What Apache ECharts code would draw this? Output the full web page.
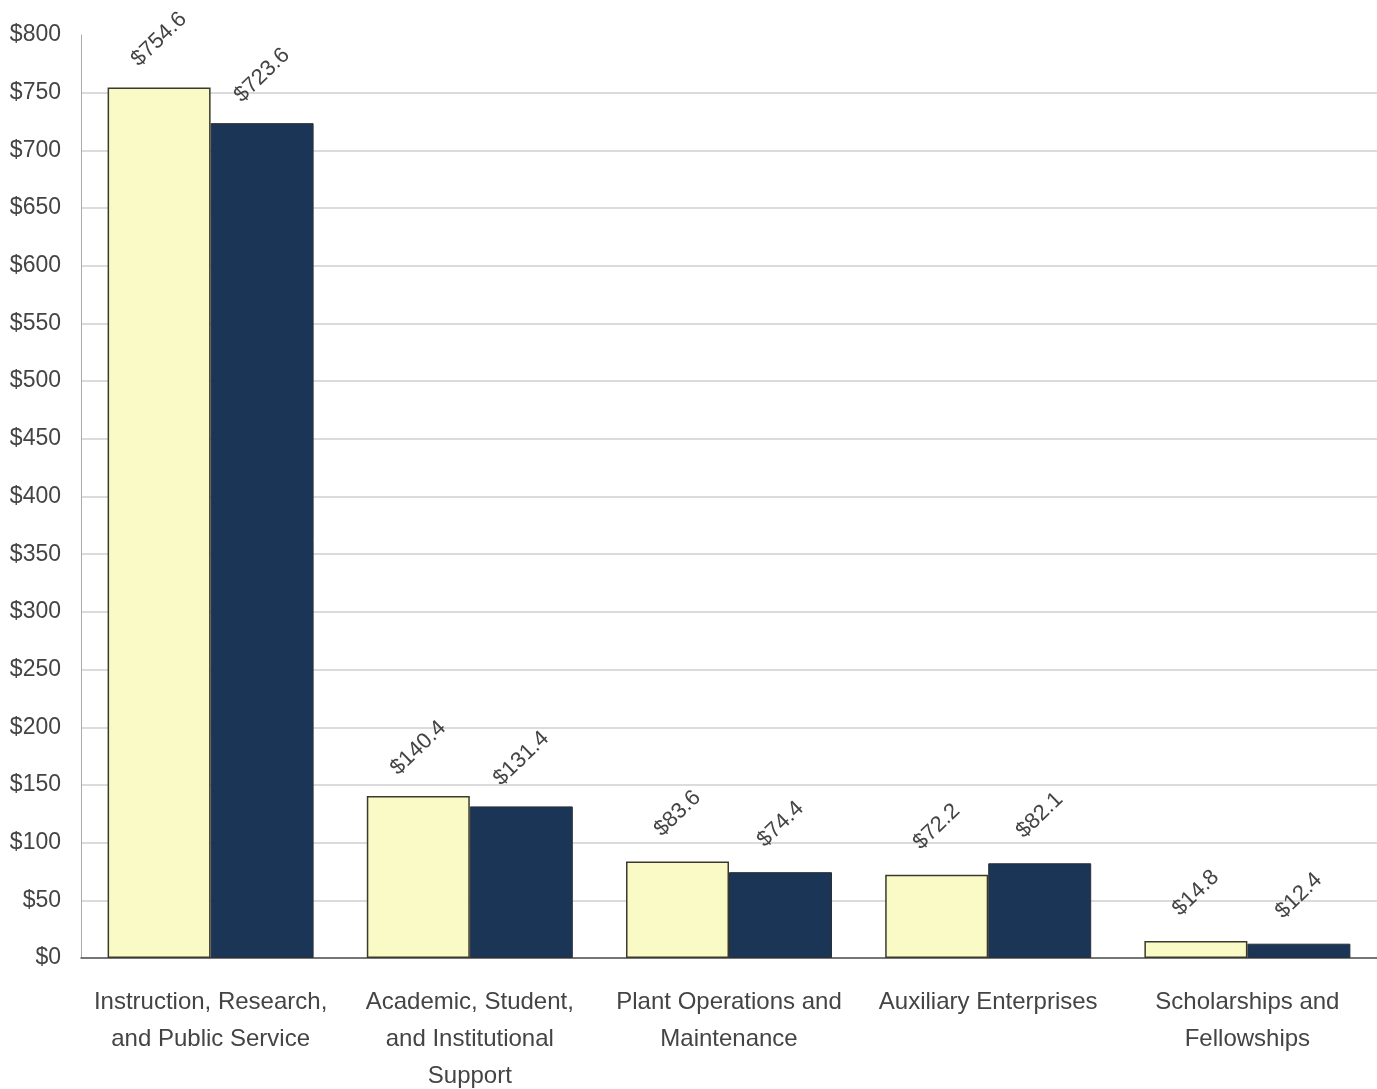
<!DOCTYPE html>
<html>
<head>
<meta charset="utf-8">
<script src="https://cdn.jsdelivr.net/npm/echarts@6/dist/echarts.min.js"></script>
<style>
html,body{margin:0;padding:0;background:#fff;}
#chart{width:1377px;height:1089px;}
</style>
</head>
<body>
<div id="chart"></div>
<script>
const categories = [
  "Instruction, Research,\nand Public Service",
  "Academic, Student,\nand Institutional\nSupport",
  "Plant Operations and\nMaintenance",
  "Auxiliary Enterprises",
  "Scholarships and\nFellowships"
];
const seriesA = [754.6, 140.4, 83.6, 72.2, 14.8];
const seriesB = [723.6, 131.4, 74.4, 82.1, 12.4];
const yMin = 0, yMax = 800, yStep = 50;

const chart = echarts.init(document.getElementById('chart'));
const gridColors = [];
for (let v = yMin; v <= yMax; v += yStep) gridColors.push(v === yMax ? 'rgba(0,0,0,0)' : '#cfcfcf');

const labelCfg = {
  show: true,
  position: 'top',
  distance: 48,
  rotate: 44,
  align: 'center',
  verticalAlign: 'middle',
  color: '#444',
  fontSize: 22,
  fontFamily: 'Liberation Sans, Arial, sans-serif',
  formatter: p => '$' + p.value.toFixed(1)
};

chart.setOption({
  animation: false,
  backgroundColor: '#fff',
  grid: {left: 81, right: 0, top: 35, bottom: 131, containLabel: false, outerBoundsMode: 'none'},
  xAxis: {
    type: 'category',
    data: categories,
    axisLine: {show: true, lineStyle: {color: '#555', width: 1.5}},
    axisTick: {show: false},
    axisLabel: {
      interval: 0,
      margin: 26,
      color: '#444',
      fontSize: 24,
      lineHeight: 37,
      fontFamily: 'Liberation Sans, Arial, sans-serif'
    }
  },
  yAxis: {
    type: 'value',
    min: yMin,
    max: yMax,
    interval: yStep,
    axisLine: {show: true, lineStyle: {color: '#aaa', width: 1}},
    axisTick: {show: false},
    splitLine: {show: true, lineStyle: {color: gridColors, width: 1.5}},
    axisLabel: {
      margin: 20,
      color: '#444',
      fontSize: 23,
      fontFamily: 'Liberation Sans, Arial, sans-serif',
      formatter: v => '$' + v
    }
  },
  series: [
    {
      type: 'bar',
      data: seriesA,
      barWidth: 103,
      barGap: '0%',
      itemStyle: {color: '#fafac6', borderColor: '#3a3a2c', borderWidth: 1.5},
      label: labelCfg
    },
    {
      type: 'bar',
      data: seriesB,
      barWidth: 103,
      barGap: '0%',
      itemStyle: {color: '#1b3556', borderColor: '#2a2f38', borderWidth: 1},
      label: labelCfg
    }
  ]
});
</script>
</body>
</html>
